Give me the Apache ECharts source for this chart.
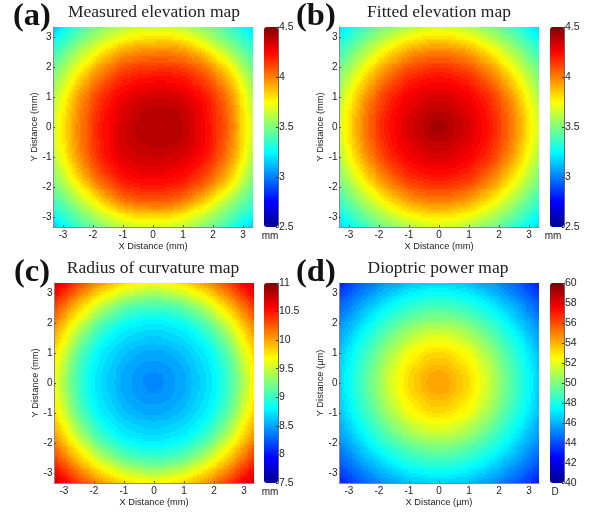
<!DOCTYPE html>
<html><head><meta charset="utf-8">
<style>html,body{margin:0;padding:0;background:#fff}#c{width:595px;height:512px}</style>
<script src="https://cdn.jsdelivr.net/npm/echarts@6/dist/echarts.min.js"></script>
</head><body><div id="c"></div>
<script>
const cellCentres = [-3.2,-2.93,-2.67,-2.4,-2.13,-1.87,-1.6,-1.33,-1.07,-0.8,-0.53,-0.27,0,0.27,0.53,0.8,1.07,1.33,1.6,1.87,2.13,2.4,2.67,2.93,3.2];
const xyTicks = [-3,-2,-1,0,1,2,3];
const panelTitles = ['Measured elevation map','Fitted elevation map','Radius of curvature map','Dioptric power map'];
const panelLetters = ['(a)','(b)','(c)','(d)'];
const xNames = ['X Distance (mm)','X Distance (mm)','X Distance (mm)','X Distance (µm)'];
const yNames = ['Y Distance (mm)','Y Distance (mm)','Y Distance (mm)','Y Distance (µm)'];
const units = ['mm','mm','mm','D'];
const scaleMin = [2.5,2.5,7.5,40];
const scaleMax = [4.5,4.5,11,60];
const scaleStep = [0.5,0.5,0.5,2];
const jet = ['#00008f','#0000ff','#007fff','#00ffff','#7fff7f','#ffff00','#ff7f00','#ff0000','#7f0000'];
// rows run from the top of the map (y = 3.2) to the bottom (y = -3.2)
const measured = [
[3.18,3.27,3.34,3.40,3.46,3.51,3.56,3.60,3.63,3.66,3.68,3.69,3.70,3.70,3.69,3.67,3.65,3.61,3.57,3.52,3.47,3.42,3.36,3.30,3.25],
[3.27,3.34,3.40,3.47,3.52,3.58,3.64,3.68,3.72,3.76,3.78,3.80,3.80,3.81,3.81,3.79,3.76,3.72,3.67,3.60,3.54,3.48,3.42,3.36,3.30],
[3.34,3.40,3.47,3.54,3.61,3.67,3.73,3.79,3.84,3.87,3.90,3.91,3.91,3.92,3.92,3.90,3.87,3.83,3.77,3.71,3.63,3.56,3.49,3.42,3.36],
[3.40,3.47,3.54,3.62,3.69,3.76,3.83,3.89,3.94,3.97,3.99,4.01,4.01,4.02,4.02,4.00,3.98,3.94,3.89,3.82,3.74,3.66,3.57,3.49,3.42],
[3.46,3.53,3.61,3.69,3.77,3.85,3.92,3.98,4.03,4.06,4.08,4.09,4.10,4.10,4.09,4.08,4.06,4.03,3.99,3.92,3.85,3.77,3.67,3.56,3.48],
[3.50,3.58,3.67,3.76,3.85,3.93,4.00,4.05,4.10,4.13,4.15,4.16,4.16,4.17,4.17,4.16,4.14,4.11,4.06,4.01,3.93,3.85,3.75,3.63,3.53],
[3.54,3.64,3.73,3.83,3.92,4.00,4.06,4.12,4.16,4.19,4.21,4.22,4.23,4.24,4.23,4.22,4.20,4.17,4.13,4.07,4.00,3.92,3.82,3.70,3.58],
[3.58,3.69,3.79,3.89,3.98,4.05,4.12,4.17,4.21,4.24,4.26,4.27,4.28,4.28,4.28,4.27,4.25,4.22,4.18,4.13,4.06,3.98,3.88,3.76,3.62],
[3.62,3.73,3.83,3.94,4.02,4.10,4.16,4.21,4.25,4.28,4.30,4.31,4.32,4.32,4.32,4.31,4.29,4.26,4.22,4.17,4.10,4.02,3.92,3.80,3.66],
[3.65,3.76,3.87,3.97,4.05,4.13,4.19,4.24,4.28,4.31,4.33,4.35,4.36,4.36,4.36,4.35,4.33,4.30,4.25,4.20,4.13,4.05,3.95,3.82,3.68],
[3.68,3.79,3.89,3.99,4.07,4.15,4.21,4.26,4.30,4.33,4.36,4.38,4.39,4.39,4.39,4.38,4.35,4.32,4.27,4.21,4.15,4.07,3.97,3.84,3.70],
[3.69,3.80,3.90,4.00,4.08,4.16,4.22,4.27,4.31,4.34,4.37,4.39,4.40,4.40,4.40,4.39,4.36,4.33,4.28,4.22,4.16,4.08,3.98,3.85,3.71],
[3.70,3.81,3.91,4.01,4.09,4.17,4.23,4.28,4.32,4.35,4.38,4.40,4.40,4.40,4.40,4.39,4.37,4.33,4.28,4.23,4.16,4.09,3.99,3.86,3.72],
[3.70,3.81,3.91,4.01,4.09,4.17,4.23,4.28,4.32,4.35,4.38,4.40,4.40,4.40,4.40,4.39,4.37,4.33,4.28,4.23,4.16,4.08,3.98,3.85,3.71],
[3.69,3.80,3.90,4.00,4.09,4.16,4.22,4.28,4.32,4.35,4.37,4.38,4.39,4.39,4.39,4.38,4.35,4.32,4.28,4.22,4.15,4.07,3.97,3.84,3.70],
[3.67,3.78,3.89,3.99,4.08,4.15,4.22,4.27,4.31,4.33,4.35,4.36,4.37,4.37,4.36,4.35,4.33,4.30,4.26,4.21,4.14,4.05,3.95,3.83,3.68],
[3.64,3.75,3.86,3.96,4.05,4.13,4.20,4.25,4.29,4.31,4.33,4.34,4.34,4.34,4.33,4.32,4.30,4.27,4.23,4.18,4.11,4.02,3.92,3.80,3.66],
[3.60,3.71,3.82,3.93,4.02,4.10,4.17,4.22,4.26,4.29,4.30,4.31,4.31,4.31,4.30,4.29,4.27,4.24,4.20,4.14,4.07,3.98,3.88,3.76,3.62],
[3.56,3.66,3.77,3.87,3.97,4.05,4.12,4.18,4.22,4.25,4.27,4.28,4.28,4.28,4.27,4.25,4.23,4.20,4.15,4.09,4.01,3.93,3.83,3.71,3.58],
[3.52,3.60,3.70,3.80,3.90,3.99,4.06,4.12,4.17,4.20,4.22,4.23,4.23,4.23,4.22,4.21,4.18,4.14,4.09,4.03,3.95,3.86,3.76,3.64,3.53],
[3.47,3.54,3.63,3.72,3.81,3.90,3.98,4.05,4.10,4.14,4.16,4.17,4.17,4.17,4.16,4.14,4.11,4.06,4.01,3.94,3.86,3.77,3.67,3.57,3.48],
[3.41,3.48,3.56,3.64,3.72,3.80,3.88,3.96,4.02,4.06,4.08,4.09,4.09,4.09,4.08,4.06,4.02,3.97,3.90,3.83,3.75,3.66,3.57,3.49,3.42],
[3.35,3.42,3.48,3.55,3.63,3.70,3.78,3.85,3.90,3.94,3.97,3.98,3.99,3.99,3.98,3.95,3.91,3.85,3.79,3.72,3.64,3.56,3.49,3.42,3.36],
[3.29,3.35,3.42,3.48,3.55,3.61,3.67,3.72,3.77,3.81,3.84,3.85,3.85,3.85,3.84,3.81,3.77,3.72,3.67,3.61,3.55,3.48,3.42,3.36,3.30],
[3.20,3.29,3.35,3.41,3.46,3.52,3.57,3.62,3.66,3.69,3.71,3.72,3.72,3.72,3.71,3.69,3.66,3.62,3.57,3.52,3.47,3.41,3.35,3.29,3.22]
];
const fitted = [
[3.23,3.29,3.35,3.40,3.46,3.51,3.55,3.59,3.63,3.66,3.69,3.70,3.71,3.70,3.69,3.66,3.63,3.59,3.55,3.51,3.46,3.40,3.35,3.29,3.23],
[3.29,3.35,3.41,3.48,3.53,3.59,3.65,3.70,3.74,3.77,3.80,3.81,3.82,3.81,3.80,3.77,3.74,3.70,3.65,3.59,3.53,3.48,3.41,3.35,3.29],
[3.35,3.41,3.48,3.55,3.62,3.68,3.74,3.80,3.84,3.88,3.90,3.92,3.92,3.92,3.90,3.88,3.84,3.80,3.74,3.68,3.62,3.55,3.48,3.41,3.35],
[3.40,3.48,3.55,3.62,3.70,3.77,3.84,3.89,3.94,3.98,4.00,4.02,4.02,4.02,4.00,3.98,3.94,3.89,3.84,3.77,3.70,3.62,3.55,3.48,3.40],
[3.46,3.53,3.62,3.70,3.78,3.86,3.92,3.98,4.02,4.06,4.08,4.10,4.10,4.10,4.08,4.06,4.02,3.98,3.92,3.86,3.78,3.70,3.62,3.53,3.46],
[3.51,3.59,3.68,3.77,3.86,3.93,4.00,4.05,4.10,4.13,4.15,4.17,4.17,4.17,4.15,4.13,4.10,4.05,4.00,3.93,3.86,3.77,3.68,3.59,3.51],
[3.55,3.65,3.74,3.84,3.92,4.00,4.06,4.12,4.16,4.19,4.21,4.22,4.23,4.22,4.21,4.19,4.16,4.12,4.06,4.00,3.92,3.84,3.74,3.65,3.55],
[3.59,3.70,3.80,3.89,3.98,4.05,4.12,4.17,4.20,4.24,4.26,4.27,4.27,4.27,4.26,4.24,4.20,4.17,4.12,4.05,3.98,3.89,3.80,3.70,3.59],
[3.63,3.74,3.84,3.94,4.02,4.10,4.16,4.20,4.25,4.27,4.29,4.31,4.31,4.31,4.29,4.27,4.25,4.20,4.16,4.10,4.02,3.94,3.84,3.74,3.63],
[3.66,3.77,3.88,3.98,4.06,4.13,4.19,4.24,4.27,4.30,4.32,4.34,4.34,4.34,4.32,4.30,4.27,4.24,4.19,4.13,4.06,3.98,3.88,3.77,3.66],
[3.69,3.80,3.90,4.00,4.08,4.15,4.21,4.26,4.29,4.32,4.35,4.37,4.38,4.37,4.35,4.32,4.29,4.26,4.21,4.15,4.08,4.00,3.90,3.80,3.69],
[3.70,3.81,3.92,4.02,4.10,4.17,4.22,4.27,4.31,4.34,4.37,4.39,4.41,4.39,4.37,4.34,4.31,4.27,4.22,4.17,4.10,4.02,3.92,3.81,3.70],
[3.71,3.82,3.92,4.02,4.10,4.17,4.23,4.27,4.31,4.34,4.38,4.41,4.44,4.41,4.38,4.34,4.31,4.27,4.23,4.17,4.10,4.02,3.92,3.82,3.71],
[3.70,3.81,3.92,4.02,4.10,4.17,4.22,4.27,4.31,4.34,4.37,4.39,4.41,4.39,4.37,4.34,4.31,4.27,4.22,4.17,4.10,4.02,3.92,3.81,3.70],
[3.69,3.80,3.90,4.00,4.08,4.15,4.21,4.26,4.29,4.32,4.35,4.37,4.38,4.37,4.35,4.32,4.29,4.26,4.21,4.15,4.08,4.00,3.90,3.80,3.69],
[3.66,3.77,3.88,3.98,4.06,4.13,4.19,4.24,4.27,4.30,4.32,4.34,4.34,4.34,4.32,4.30,4.27,4.24,4.19,4.13,4.06,3.98,3.88,3.77,3.66],
[3.63,3.74,3.84,3.94,4.02,4.10,4.16,4.20,4.25,4.27,4.29,4.31,4.31,4.31,4.29,4.27,4.25,4.20,4.16,4.10,4.02,3.94,3.84,3.74,3.63],
[3.59,3.70,3.80,3.89,3.98,4.05,4.12,4.17,4.20,4.24,4.26,4.27,4.27,4.27,4.26,4.24,4.20,4.17,4.12,4.05,3.98,3.89,3.80,3.70,3.59],
[3.55,3.65,3.74,3.84,3.92,4.00,4.06,4.12,4.16,4.19,4.21,4.22,4.23,4.22,4.21,4.19,4.16,4.12,4.06,4.00,3.92,3.84,3.74,3.65,3.55],
[3.51,3.59,3.68,3.77,3.86,3.93,4.00,4.05,4.10,4.13,4.15,4.17,4.17,4.17,4.15,4.13,4.10,4.05,4.00,3.93,3.86,3.77,3.68,3.59,3.51],
[3.46,3.53,3.62,3.70,3.78,3.86,3.92,3.98,4.02,4.06,4.08,4.10,4.10,4.10,4.08,4.06,4.02,3.98,3.92,3.86,3.78,3.70,3.62,3.53,3.46],
[3.40,3.48,3.55,3.62,3.70,3.77,3.84,3.89,3.94,3.98,4.00,4.02,4.02,4.02,4.00,3.98,3.94,3.89,3.84,3.77,3.70,3.62,3.55,3.48,3.40],
[3.35,3.41,3.48,3.55,3.62,3.68,3.74,3.80,3.84,3.88,3.90,3.92,3.92,3.92,3.90,3.88,3.84,3.80,3.74,3.68,3.62,3.55,3.48,3.41,3.35],
[3.29,3.35,3.41,3.48,3.53,3.59,3.65,3.70,3.74,3.77,3.80,3.81,3.82,3.81,3.80,3.77,3.74,3.70,3.65,3.59,3.53,3.48,3.41,3.35,3.29],
[3.23,3.29,3.35,3.40,3.46,3.51,3.55,3.59,3.63,3.66,3.69,3.70,3.71,3.70,3.69,3.66,3.63,3.59,3.55,3.51,3.46,3.40,3.35,3.29,3.23]
];
const curvature = [
[10.65,10.51,10.37,10.25,10.13,10.01,9.91,9.82,9.75,9.68,9.64,9.61,9.60,9.61,9.64,9.68,9.75,9.82,9.91,10.01,10.13,10.25,10.37,10.51,10.65],
[10.51,10.36,10.22,10.08,9.95,9.83,9.72,9.62,9.53,9.46,9.41,9.38,9.37,9.38,9.41,9.46,9.53,9.62,9.72,9.83,9.95,10.08,10.22,10.36,10.51],
[10.37,10.22,10.07,9.92,9.78,9.65,9.52,9.41,9.31,9.24,9.19,9.16,9.15,9.16,9.19,9.24,9.31,9.41,9.52,9.65,9.78,9.92,10.07,10.22,10.37],
[10.25,10.08,9.92,9.77,9.61,9.46,9.32,9.21,9.12,9.05,9.01,8.98,8.98,8.98,9.01,9.05,9.12,9.21,9.32,9.46,9.61,9.77,9.92,10.08,10.25],
[10.13,9.95,9.78,9.61,9.44,9.28,9.15,9.04,8.97,8.91,8.86,8.83,8.83,8.83,8.86,8.91,8.97,9.04,9.15,9.28,9.44,9.61,9.78,9.95,10.13],
[10.01,9.83,9.65,9.46,9.28,9.13,9.01,8.92,8.83,8.78,8.76,8.74,8.74,8.74,8.76,8.78,8.83,8.92,9.01,9.13,9.28,9.46,9.65,9.83,10.01],
[9.91,9.72,9.52,9.32,9.15,9.01,8.90,8.80,8.75,8.72,8.69,8.67,8.67,8.67,8.69,8.72,8.75,8.80,8.90,9.01,9.15,9.32,9.52,9.72,9.91],
[9.82,9.62,9.41,9.21,9.04,8.92,8.80,8.74,8.69,8.65,8.62,8.61,8.60,8.61,8.62,8.65,8.69,8.74,8.80,8.92,9.04,9.21,9.41,9.62,9.82],
[9.75,9.53,9.31,9.12,8.97,8.83,8.75,8.69,8.64,8.60,8.57,8.54,8.53,8.54,8.57,8.60,8.64,8.69,8.75,8.83,8.97,9.12,9.31,9.53,9.75],
[9.68,9.46,9.24,9.05,8.91,8.78,8.72,8.65,8.60,8.55,8.51,8.50,8.49,8.50,8.51,8.55,8.60,8.65,8.72,8.78,8.91,9.05,9.24,9.46,9.68],
[9.64,9.41,9.19,9.01,8.86,8.76,8.69,8.62,8.57,8.51,8.48,8.46,8.45,8.46,8.48,8.51,8.57,8.62,8.69,8.76,8.86,9.01,9.19,9.41,9.64],
[9.61,9.38,9.16,8.98,8.83,8.74,8.67,8.61,8.54,8.50,8.46,8.43,8.42,8.43,8.46,8.50,8.54,8.61,8.67,8.74,8.83,8.98,9.16,9.38,9.61],
[9.60,9.37,9.15,8.98,8.83,8.74,8.67,8.60,8.53,8.49,8.45,8.42,8.40,8.42,8.45,8.49,8.53,8.60,8.67,8.74,8.83,8.98,9.15,9.37,9.60],
[9.61,9.38,9.16,8.98,8.83,8.74,8.67,8.61,8.54,8.50,8.46,8.43,8.42,8.43,8.46,8.50,8.54,8.61,8.67,8.74,8.83,8.98,9.16,9.38,9.61],
[9.64,9.41,9.19,9.01,8.86,8.76,8.69,8.62,8.57,8.51,8.48,8.46,8.45,8.46,8.48,8.51,8.57,8.62,8.69,8.76,8.86,9.01,9.19,9.41,9.64],
[9.68,9.46,9.24,9.05,8.91,8.78,8.72,8.65,8.60,8.55,8.51,8.50,8.49,8.50,8.51,8.55,8.60,8.65,8.72,8.78,8.91,9.05,9.24,9.46,9.68],
[9.75,9.53,9.31,9.12,8.97,8.83,8.75,8.69,8.64,8.60,8.57,8.54,8.53,8.54,8.57,8.60,8.64,8.69,8.75,8.83,8.97,9.12,9.31,9.53,9.75],
[9.82,9.62,9.41,9.21,9.04,8.92,8.80,8.74,8.69,8.65,8.62,8.61,8.60,8.61,8.62,8.65,8.69,8.74,8.80,8.92,9.04,9.21,9.41,9.62,9.82],
[9.91,9.72,9.52,9.32,9.15,9.01,8.90,8.80,8.75,8.72,8.69,8.67,8.67,8.67,8.69,8.72,8.75,8.80,8.90,9.01,9.15,9.32,9.52,9.72,9.91],
[10.01,9.83,9.65,9.46,9.28,9.13,9.01,8.92,8.83,8.78,8.76,8.74,8.74,8.74,8.76,8.78,8.83,8.92,9.01,9.13,9.28,9.46,9.65,9.83,10.01],
[10.13,9.95,9.78,9.61,9.44,9.28,9.15,9.04,8.97,8.91,8.86,8.83,8.83,8.83,8.86,8.91,8.97,9.04,9.15,9.28,9.44,9.61,9.78,9.95,10.13],
[10.25,10.08,9.92,9.77,9.61,9.46,9.32,9.21,9.12,9.05,9.01,8.98,8.98,8.98,9.01,9.05,9.12,9.21,9.32,9.46,9.61,9.77,9.92,10.08,10.25],
[10.37,10.22,10.07,9.92,9.78,9.65,9.52,9.41,9.31,9.24,9.19,9.16,9.15,9.16,9.19,9.24,9.31,9.41,9.52,9.65,9.78,9.92,10.07,10.22,10.37],
[10.51,10.36,10.22,10.08,9.95,9.83,9.72,9.62,9.53,9.46,9.41,9.38,9.37,9.38,9.41,9.46,9.53,9.62,9.72,9.83,9.95,10.08,10.22,10.36,10.51],
[10.65,10.51,10.37,10.25,10.13,10.01,9.91,9.82,9.75,9.68,9.64,9.61,9.60,9.61,9.64,9.68,9.75,9.82,9.91,10.01,10.13,10.25,10.37,10.51,10.65]
];
const dioptric = [
[43.4,43.9,44.4,44.8,45.2,45.6,45.9,46.2,46.5,46.7,46.8,46.9,46.9,46.9,46.8,46.7,46.5,46.2,45.9,45.6,45.2,44.8,44.4,43.9,43.4],
[43.9,44.4,44.9,45.3,45.8,46.2,46.5,46.9,47.2,47.4,47.6,47.7,47.7,47.7,47.6,47.4,47.2,46.9,46.5,46.2,45.8,45.3,44.9,44.4,43.9],
[44.4,44.9,45.4,45.9,46.3,46.8,47.2,47.6,47.9,48.1,48.3,48.4,48.4,48.4,48.3,48.1,47.9,47.6,47.2,46.8,46.3,45.9,45.4,44.9,44.4],
[44.8,45.3,45.9,46.4,46.9,47.4,47.8,48.2,48.5,48.8,49.0,49.2,49.2,49.2,49.0,48.8,48.5,48.2,47.8,47.4,46.9,46.4,45.9,45.3,44.8],
[45.2,45.8,46.3,46.9,47.5,48.0,48.4,48.9,49.2,49.6,49.8,50.0,50.0,50.0,49.8,49.6,49.2,48.9,48.4,48.0,47.5,46.9,46.3,45.8,45.2],
[45.6,46.2,46.8,47.4,48.0,48.5,49.0,49.5,50.0,50.3,50.6,50.8,50.8,50.8,50.6,50.3,50.0,49.5,49.0,48.5,48.0,47.4,46.8,46.2,45.6],
[45.9,46.5,47.2,47.8,48.4,49.0,49.6,50.2,50.6,51.1,51.4,51.6,51.7,51.6,51.4,51.1,50.6,50.2,49.6,49.0,48.4,47.8,47.2,46.5,45.9],
[46.2,46.9,47.6,48.2,48.9,49.5,50.2,50.8,51.3,51.8,52.1,52.3,52.4,52.3,52.1,51.8,51.3,50.8,50.2,49.5,48.9,48.2,47.6,46.9,46.2],
[46.5,47.2,47.9,48.5,49.2,50.0,50.6,51.3,52.0,52.4,52.7,52.9,53.0,52.9,52.7,52.4,52.0,51.3,50.6,50.0,49.2,48.5,47.9,47.2,46.5],
[46.7,47.4,48.1,48.8,49.6,50.3,51.1,51.8,52.4,52.8,53.2,53.4,53.5,53.4,53.2,52.8,52.4,51.8,51.1,50.3,49.6,48.8,48.1,47.4,46.7],
[46.8,47.6,48.3,49.0,49.8,50.6,51.4,52.1,52.7,53.2,53.5,53.8,53.9,53.8,53.5,53.2,52.7,52.1,51.4,50.6,49.8,49.0,48.3,47.6,46.8],
[46.9,47.7,48.4,49.2,50.0,50.8,51.6,52.3,52.9,53.4,53.8,54.1,54.2,54.1,53.8,53.4,52.9,52.3,51.6,50.8,50.0,49.2,48.4,47.7,46.9],
[46.9,47.7,48.4,49.2,50.0,50.8,51.7,52.4,53.0,53.5,53.9,54.2,54.3,54.2,53.9,53.5,53.0,52.4,51.7,50.8,50.0,49.2,48.4,47.7,46.9],
[46.9,47.7,48.4,49.2,50.0,50.8,51.6,52.3,52.9,53.4,53.8,54.1,54.2,54.1,53.8,53.4,52.9,52.3,51.6,50.8,50.0,49.2,48.4,47.7,46.9],
[46.8,47.6,48.3,49.0,49.8,50.6,51.4,52.1,52.7,53.2,53.5,53.8,53.9,53.8,53.5,53.2,52.7,52.1,51.4,50.6,49.8,49.0,48.3,47.6,46.8],
[46.7,47.4,48.1,48.8,49.6,50.3,51.1,51.8,52.4,52.8,53.2,53.4,53.5,53.4,53.2,52.8,52.4,51.8,51.1,50.3,49.6,48.8,48.1,47.4,46.7],
[46.5,47.2,47.9,48.5,49.2,50.0,50.6,51.3,52.0,52.4,52.7,52.9,53.0,52.9,52.7,52.4,52.0,51.3,50.6,50.0,49.2,48.5,47.9,47.2,46.5],
[46.2,46.9,47.6,48.2,48.9,49.5,50.2,50.8,51.3,51.8,52.1,52.3,52.4,52.3,52.1,51.8,51.3,50.8,50.2,49.5,48.9,48.2,47.6,46.9,46.2],
[45.9,46.5,47.2,47.8,48.4,49.0,49.6,50.2,50.6,51.1,51.4,51.6,51.7,51.6,51.4,51.1,50.6,50.2,49.6,49.0,48.4,47.8,47.2,46.5,45.9],
[45.6,46.2,46.8,47.4,48.0,48.5,49.0,49.5,50.0,50.3,50.6,50.8,50.8,50.8,50.6,50.3,50.0,49.5,49.0,48.5,48.0,47.4,46.8,46.2,45.6],
[45.2,45.8,46.3,46.9,47.5,48.0,48.4,48.9,49.2,49.6,49.8,50.0,50.0,50.0,49.8,49.6,49.2,48.9,48.4,48.0,47.5,46.9,46.3,45.8,45.2],
[44.8,45.3,45.9,46.4,46.9,47.4,47.8,48.2,48.5,48.8,49.0,49.2,49.2,49.2,49.0,48.8,48.5,48.2,47.8,47.4,46.9,46.4,45.9,45.3,44.8],
[44.4,44.9,45.4,45.9,46.3,46.8,47.2,47.6,47.9,48.1,48.3,48.4,48.4,48.4,48.3,48.1,47.9,47.6,47.2,46.8,46.3,45.9,45.4,44.9,44.4],
[43.9,44.4,44.9,45.3,45.8,46.2,46.5,46.9,47.2,47.4,47.6,47.7,47.7,47.7,47.6,47.4,47.2,46.9,46.5,46.2,45.8,45.3,44.9,44.4,43.9],
[43.4,43.9,44.4,44.8,45.2,45.6,45.9,46.2,46.5,46.7,46.8,46.9,46.9,46.9,46.8,46.7,46.5,46.2,45.9,45.6,45.2,44.8,44.4,43.9,43.4]
];
const maps = [measured, fitted, curvature, dioptric];

const mapLeft = [53,339,54,339], mapTop = [27,27,283,283], side = 200;
const barLeft = [264,550,264,550], barWidth = 14;
const titleCentre = [154,439,153,438], letterLeft = [13,296,14,296], unitCentre = [270,553,270,555];
const sans = '"Liberation Sans",Arial,sans-serif', serif = '"Liberation Serif","Times New Roman",serif';
const limit = 3.33, subCells = 4;
const levels = [];
for (let k=0;k<64;k++) levels.push(echarts.color.lerp((k+0.5)/64, jet));

function shadedCell(rows,p){
  const n = rows.length;
  const pos = f => { const i=Math.max(0,Math.min(n-2,Math.floor(f))); return cellCentres[i]+(f-i)*(cellCentres[i+1]-cellCentres[i]); };
  const val = (fc,fr) => {
    const c=Math.max(0,Math.min(n-2,Math.floor(fc))), r=Math.max(0,Math.min(n-2,Math.floor(fr)));
    const u=fc-c, w=fr-r;
    return (rows[r][c]*(1-u)+rows[r][c+1]*u)*(1-w)+(rows[r+1][c]*(1-u)+rows[r+1][c+1]*u)*w;
  };
  return function(params,api){
    const c = params.dataIndex % n, r = Math.floor(params.dataIndex / n), children=[];
    for (let a=0;a<subCells;a++) for (let b=0;b<subCells;b++){
      const fc0=c-0.5+a/subCells, fc1=fc0+1/subCells, fr0=r-0.5+b/subCells, fr1=fr0+1/subCells;
      const p0=api.coord([pos(fc0),pos(n-1-fr0)]), p1=api.coord([pos(fc1),pos(n-1-fr1)]);
      const t=(val((fc0+fc1)/2,(fr0+fr1)/2)-scaleMin[p])/(scaleMax[p]-scaleMin[p]);
      const x=Math.floor(p0[0]), y=Math.floor(p0[1]);
      children.push({type:'rect',shape:{x,y,width:Math.ceil(p1[0])-x,height:Math.ceil(p1[1])-y},
        style:{fill:levels[Math.max(0,Math.min(63,Math.floor(t*64)))]}});
    }
    return {type:'group',children,silent:true};
  };
}

const grid=[], xAxis=[], yAxis=[], series=[], visualMap=[], title=[];
maps.forEach((rows,p)=>{
  const common = {type:'value',gridIndex:p,min:-limit,max:limit,z:5,
    splitLine:{show:false},
    axisLine:{show:true,onZero:false,lineStyle:{color:'#888',width:1}},
    axisTick:{show:true,inside:true,length:2,lineStyle:{color:'#555'},customValues:xyTicks},
    nameLocation:'center',
    nameTextStyle:{fontFamily:sans,fontSize:9.3,color:'#222'}};
  const lab = {fontFamily:sans,fontSize:10,color:'#222',customValues:xyTicks,showMinLabel:true,showMaxLabel:true};
  grid.push({left:mapLeft[p],top:mapTop[p],width:side,height:side});
  xAxis.push({...common,position:'bottom',name:xNames[p],nameGap:14.5,axisLabel:{...lab,margin:3}});
  yAxis.push({...common,position:'left',name:yNames[p],nameGap:10.5,axisLabel:{...lab,margin:1.5}});
  const data=[];
  rows.forEach((row,r)=>row.forEach((v,c)=>data.push([cellCentres[c],cellCentres[rows.length-1-r],v])));
  series.push({type:'custom',name:panelTitles[p],xAxisIndex:p,yAxisIndex:p,data,encode:{x:0,y:1},clip:true,
    renderItem:shadedCell(rows,p),progressive:0,silent:true,animation:false});
  visualMap.push({type:'continuous',seriesIndex:p,dimension:2,min:scaleMin[p],max:scaleMax[p],left:barLeft[p],top:mapTop[p],
    padding:0,itemWidth:barWidth,itemHeight:side,calculable:false,hoverLink:false,text:null,
    textStyle:{fontSize:0},inRange:{color:jet}});
  title.push({text:panelTitles[p],left:titleCentre[p],top:mapTop[p]-24,padding:0,textAlign:'center',textStyle:{fontFamily:serif,fontSize:17.5,fontWeight:'normal',color:'#222'}});
  title.push({text:panelLetters[p],left:letterLeft[p],top:mapTop[p]-27,padding:0,textStyle:{fontFamily:serif,fontSize:32.5,fontWeight:'bold',color:'#111'}});
  title.push({text:units[p],left:unitCentre[p],top:mapTop[p]+side+4,padding:0,textAlign:'center',textStyle:{fontFamily:sans,fontSize:10,fontWeight:'normal',color:'#222'}});
});
maps.forEach((rows,p)=>{
  const g = grid.length;
  grid.push({left:barLeft[p],top:mapTop[p],width:barWidth,height:side});
  xAxis.push({type:'value',gridIndex:g,show:false,min:0,max:1});
  yAxis.push({type:'value',gridIndex:g,position:'right',min:scaleMin[p],max:scaleMax[p],interval:scaleStep[p],z:5,
    splitLine:{show:false},
    axisLine:{show:true,onZero:false,lineStyle:{color:'#666'}},
    axisTick:{show:true,inside:true,length:2,lineStyle:{color:'#333'}},
    axisLabel:{fontFamily:sans,fontSize:10.5,color:'#222',margin:1,showMinLabel:true,showMaxLabel:true}});
});
const chart = echarts.init(document.getElementById('c'),null,{renderer:'canvas'});
chart.setOption({animation:false,backgroundColor:'#fff',title,grid,xAxis,yAxis,visualMap,series,tooltip:{show:false}});
</script></body></html>
